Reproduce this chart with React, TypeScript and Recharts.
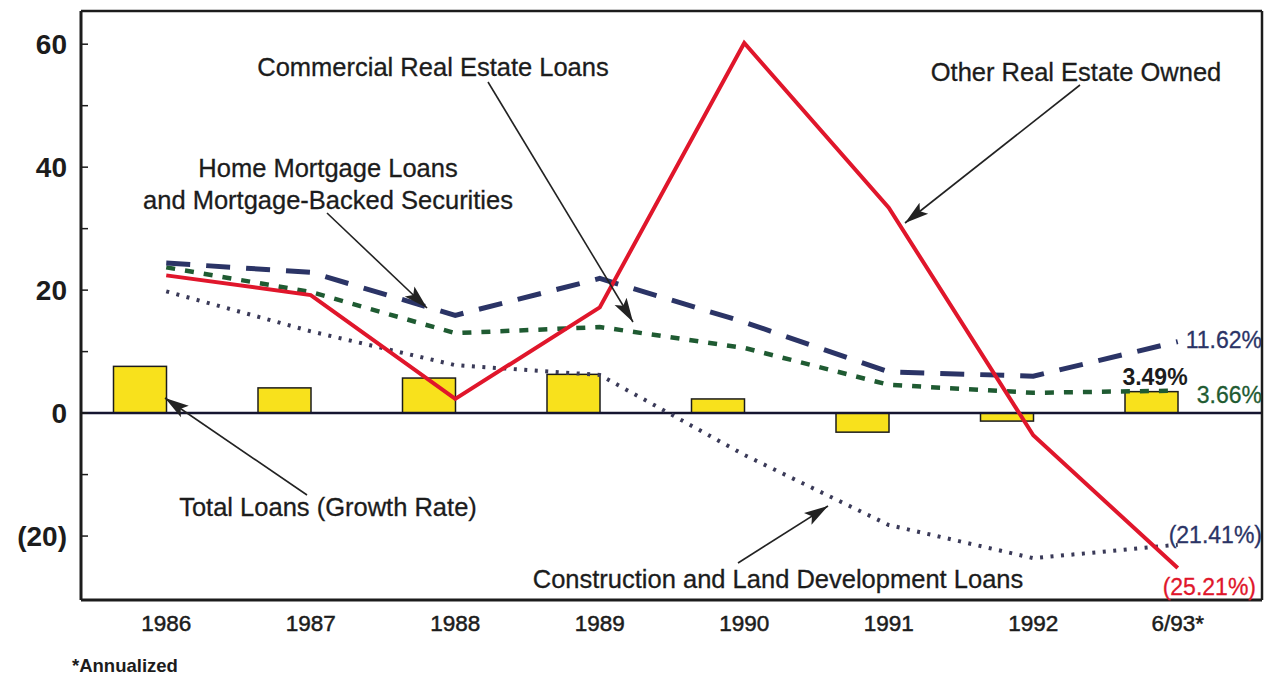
import React from "react";
import {
  ComposedChart,
  Bar,
  Line,
  XAxis,
  YAxis,
  ReferenceLine,
} from "recharts";

const periods = ["1986", "1987", "1988", "1989", "1990", "1991", "1992", "6/93*"];
const totalLoans = [7.6, 4.1, 5.7, 6.3, 2.3, -3.1, -1.3, 3.49];
const homeMortgage = [24.4, 22.9, 15.9, 21.9, 14.8, 6.7, 6.0, 11.62];
const commercialRE = [23.7, 19.7, 13.0, 14.0, 10.6, 4.6, 3.3, 3.66];
const otherREO = [22.4, 19.2, 2.3, 17.2, 60.2, 33.4, -3.6, -25.21];
const construction = [19.8, 13.3, 7.8, 6.2, -6.8, -18.2, -23.6, -21.41];

const yTicks = [-20, -10, 0, 10, 20, 30, 40, 50, 60];

const data = periods.map((p, i) => ({
  period: p,
  total: totalLoans[i],
  home: homeMortgage[i],
  commercial: commercialRE[i],
  oreo: otherREO[i],
  construction: construction[i],
}));

const FONT = "'Liberation Sans', Arial, Helvetica, sans-serif";
const INK = "#1c1c1c";
const NAVY = "#2b3466";
const GREEN = "#1f5b32";
const RED = "#e0162b";
const DOTS = "#3a3a58";
const YELLOW = "#f8e11c";

const fmtY = (v: number) => (v < 0 ? `(${-v})` : `${v}`);

function YTick(props: any) {
  const { x, y, payload } = props;
  const v = payload.value;
  return (
    <g>
      <line x1={x + 14} x2={x + 21} y1={y} y2={y} stroke={INK} strokeWidth={1.5} />
      {v % 20 === 0 && (
        <text
          x={x}
          y={y}
          dy="0.36em"
          textAnchor="end"
          fontFamily={FONT}
          fontWeight="bold"
          fontSize={28}
          fill={INK}
        >
          {fmtY(v)}
        </text>
      )}
    </g>
  );
}

// bar sits just left of the category point, as in the original
function LeftBar(props: any) {
  const { x, y, width, height } = props;
  const top = height < 0 ? y + height : y;
  return (
    <rect
      x={x - width / 2}
      y={top}
      width={width}
      height={Math.abs(height)}
      fill={YELLOW}
      stroke={INK}
      strokeWidth={1.5}
    />
  );
}

const labelStyle = { fontFamily: FONT, fontSize: 25.5, fill: INK, stroke: INK, strokeWidth: 0.3 };
const valStyle = { fontFamily: FONT, fontSize: 23, strokeWidth: 0.3 };

function Annotations() {
  const arrows = [
    [488, 82, 633, 322],
    [327, 213, 427, 308],
    [1080, 85, 905, 223],
    [307, 495, 165, 398],
    [738, 563, 828, 506],
  ];
  return (
    <svg
      width={1264}
      height={675}
      style={{ position: "absolute", left: 0, top: 0, pointerEvents: "none" }}
    >
      <defs>
        <marker
          id="ah"
          markerUnits="userSpaceOnUse"
          markerWidth={26}
          markerHeight={16}
          refX={24}
          refY={8}
          orient="auto"
        >
          <path d="M0,1 L24,8 L0,15 L5,8 z" fill="#222" />
        </marker>
      </defs>
      {arrows.map(([x1, y1, x2, y2], i) => (
        <line
          key={i}
          x1={x1}
          y1={y1}
          x2={x2}
          y2={y2}
          stroke="#222"
          strokeWidth={1.6}
          markerEnd="url(#ah)"
        />
      ))}
      <text x={433} y={67} dy="0.35em" textAnchor="middle" {...labelStyle}>
        Commercial Real Estate Loans
      </text>
      <text x={328} y={168} dy="0.35em" textAnchor="middle" {...labelStyle}>
        Home Mortgage Loans
      </text>
      <text x={328} y={200} dy="0.35em" textAnchor="middle" {...labelStyle}>
        and Mortgage-Backed Securities
      </text>
      <text x={1076} y={72} dy="0.35em" textAnchor="middle" {...labelStyle}>
        Other Real Estate Owned
      </text>
      <text x={328} y={507} dy="0.35em" textAnchor="middle" {...labelStyle}>
        Total Loans (Growth Rate)
      </text>
      <text x={778} y={579} dy="0.35em" textAnchor="middle" {...labelStyle}>
        Construction and Land Development Loans
      </text>

      <text x={1262} y={340} dy="0.35em" textAnchor="end" {...valStyle} fill={NAVY} stroke={NAVY}>
        11.62%
      </text>
      <text x={1155} y={377} dy="0.35em" textAnchor="middle" {...valStyle} fontWeight="bold" fill={INK}>
        3.49%
      </text>
      <text x={1262} y={395} dy="0.35em" textAnchor="end" {...valStyle} fill={GREEN} stroke={GREEN}>
        3.66%
      </text>
      <text x={1262} y={535} dy="0.35em" textAnchor="end" {...valStyle} fill={NAVY} stroke={NAVY}>
        (21.41%)
      </text>
      <text x={1256} y={587} dy="0.35em" textAnchor="end" {...valStyle} fill={RED} stroke={RED}>
        (25.21%)
      </text>
      <text x={72} y={666} dy="0.35em" fontFamily={FONT} fontSize={18.5} fontWeight="bold" fill={INK}>
        *Annualized
      </text>
    </svg>
  );
}

export default function App() {
  return (
    <div style={{ position: "absolute", left: 0, top: 0, width: 1264, height: 675, background: "#fff" }}>
      <ComposedChart
        width={1264}
        height={675}
        data={data}
        margin={{ top: 10, right: 1, left: 0, bottom: 0 }}
      >
        <XAxis
          dataKey="period"
          height={75}
          padding={{ left: 13, right: 12 }}
          axisLine={{ stroke: INK, strokeWidth: 3 }}
          tickLine={false}
          tickSize={0}
          tickMargin={15}
          tick={{ fontFamily: FONT, fontSize: 22.5, fill: INK, stroke: INK, strokeWidth: 0.5 }}
          interval={0}
        />
        <XAxis
          xAxisId="top"
          dataKey="period"
          orientation="top"
          height={1}
          padding={{ left: 13, right: 12 }}
          tick={false}
          tickLine={false}
          axisLine={{ stroke: INK, strokeWidth: 2.5 }}
        />
        <YAxis
          type="number"
          width={81}
          domain={[-30.4, 65.4]}
          allowDataOverflow
          ticks={yTicks}
          interval={0}
          tickSize={0}
          tickMargin={14}
          tickLine={false}
          axisLine={{ stroke: INK, strokeWidth: 3 }}
          tick={<YTick />}
        />
        <YAxis
          yAxisId="right"
          orientation="right"
          type="number"
          width={1}
          domain={[0, 1]}
          tick={false}
          tickLine={false}
          axisLine={{ stroke: INK, strokeWidth: 2.5 }}
        />
        <Bar dataKey="total" barSize={53} shape={<LeftBar />} isAnimationActive={false} />
        <ReferenceLine y={0} stroke="#151530" strokeWidth={2.5} />
        <Line
          type="linear"
          dataKey="construction"
          stroke={DOTS}
          strokeWidth={4}
          strokeDasharray="3 7.5"
          dot={false}
          activeDot={false}
          isAnimationActive={false}
        />
        <Line
          type="linear"
          dataKey="commercial"
          stroke={GREEN}
          strokeWidth={4.5}
          strokeDasharray="9 10"
          dot={false}
          activeDot={false}
          isAnimationActive={false}
        />
        <Line
          type="linear"
          dataKey="home"
          stroke={NAVY}
          strokeWidth={5}
          strokeDasharray="24 16"
          dot={false}
          activeDot={false}
          isAnimationActive={false}
        />
        <Line
          type="linear"
          dataKey="oreo"
          stroke={RED}
          strokeWidth={4}
          dot={false}
          activeDot={false}
          isAnimationActive={false}
        />
      </ComposedChart>
      <Annotations />
    </div>
  );
}
